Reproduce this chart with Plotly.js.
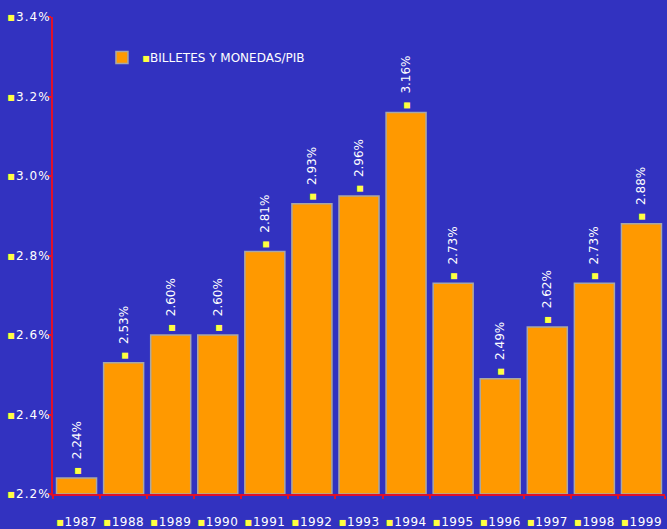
<!DOCTYPE html>
<html>
<head>
<meta charset="utf-8">
<script src="https://cdn.plot.ly/plotly-3.0.1.min.js"></script>
<style>
  html, body { margin: 0; padding: 0; background: #3232c0; }
  #chart { width: 667px; height: 529px; }
  #chart .ytick text { letter-spacing: 1px; }
  #chart .xtick text { letter-spacing: 0.5px; }
</style>
</head>
<body>
<div id="chart"></div>
<script>
// Currency in circulation as a share of GDP, by year
const years = ['1987', '1988', '1989', '1990', '1991', '1992', '1993', '1994', '1995', '1996', '1997', '1998', '1999'];
const ratioPct = [2.24, 2.53, 2.60, 2.60, 2.81, 2.93, 2.95, 3.16, 2.73, 2.49, 2.62, 2.73, 2.88];
const barLabels = ['2.24%', '2.53%', '2.60%', '2.60%', '2.81%', '2.93%', '2.96%', '3.16%', '2.73%', '2.49%', '2.62%', '2.73%', '2.88%'];
const yTickVals = [2.2, 2.4, 2.6, 2.8, 3.0, 3.2, 3.4];
const yTickText = ['2.2%', '2.4%', '2.6%', '2.8%', '3.0%', '3.2%', '3.4%'];
const seriesName = 'BILLETES Y MONEDAS/PIB';
const axisFloor = 2.2;

const dot = '<span style="color:#ffff40">▪</span>';

// bars rise from the 2.2% floor of the value axis
const trace = {
  type: 'bar',
  x: years,
  y: ratioPct.map(v => v - axisFloor),
  base: axisFloor,
  name: dot + seriesName,
  text: barLabels.map(t => dot + '  ' + t),
  textposition: 'outside',
  textangle: -90,
  constraintext: 'none',
  cliponaxis: false,
  textfont: { family: 'DejaVu Sans', size: 12, color: '#ffffff' },
  marker: { color: '#ff9900', line: { color: '#a8a8a8', width: 1.5 } },
  hoverinfo: 'none'
};

const layout = {
  width: 667,
  height: 529,
  paper_bgcolor: '#3232c0',
  plot_bgcolor: '#3232c0',
  margin: { l: 53, r: 2, t: 17, b: 35 },
  bargap: 0.15,
  font: { family: 'DejaVu Sans', size: 12, color: '#ffffff' },
  showlegend: true,
  legend: {
    x: 0.08, y: 0.915, xanchor: 'left', yanchor: 'middle',
    itemwidth: 30,
    bgcolor: 'rgba(0,0,0,0)',
    font: { family: 'DejaVu Sans', size: 12, color: '#ffffff' }
  },
  xaxis: {
    type: 'category',
    tickvals: years,
    ticktext: years.map(y => dot + y),
    tickangle: 0,
    showline: true, linecolor: '#e0102a', linewidth: 2,
    ticks: 'outside', tickson: 'boundaries', ticklen: 3, tickcolor: '#e0102a', tickwidth: 2,
    ticklabelstandoff: 16,
    showgrid: false, zeroline: false,
    tickfont: { family: 'DejaVu Sans', size: 12, color: '#ffffff' }
  },
  yaxis: {
    range: [2.2, 3.4],
    tickvals: yTickVals,
    ticktext: yTickText.map(t => dot + t),
    showline: true, linecolor: '#e0102a', linewidth: 2,
    ticks: 'outside', ticklen: 3, tickcolor: '#e0102a', tickwidth: 2,
    ticklabelstandoff: -5,
    showgrid: false, zeroline: false,
    tickfont: { family: 'DejaVu Sans', size: 12, color: '#ffffff' }
  }
};

Plotly.newPlot('chart', [trace], layout, { displayModeBar: false, staticPlot: true });
</script>
</body>
</html>
